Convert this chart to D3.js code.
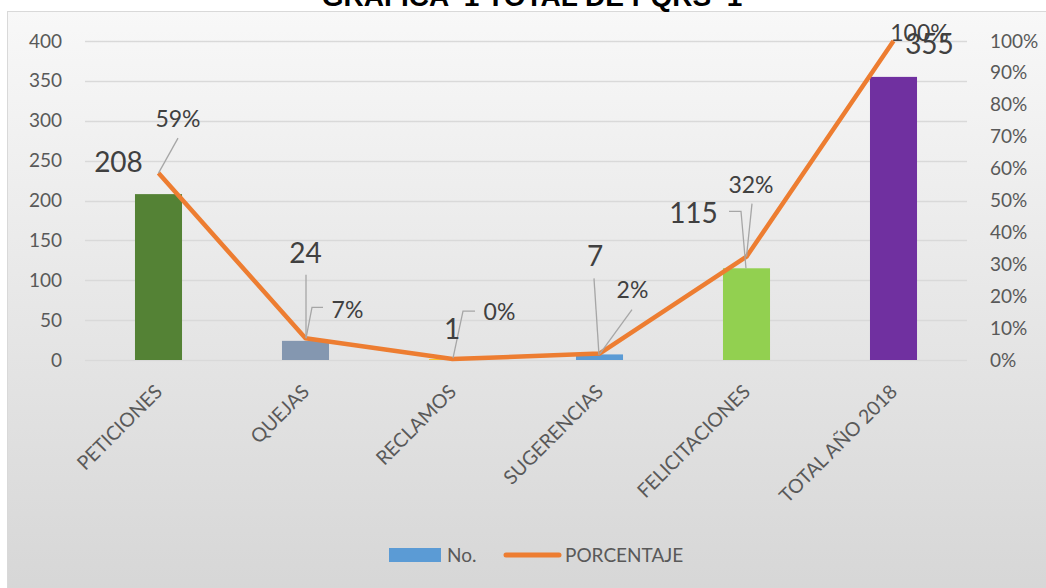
<!DOCTYPE html>
<html>
<head>
<meta charset="utf-8">
<script src="https://cdn.jsdelivr.net/npm/d3@7"></script>
<style>
  html, body { margin: 0; padding: 0; background: #fff; }
  svg { display: block; }
  text { font-family: Lato, "Open Sans", sans-serif; }
</style>
</head>
<body>
<div id="chart"></div>
<script>
// datos
const categories = ["PETICIONES", "QUEJAS", "RECLAMOS", "SUGERENCIAS", "FELICITACIONES", "TOTAL AÑO 2018"];
const counts = [208, 24, 1, 7, 115, 355];
const percents = [0.586, 0.068, 0.003, 0.020, 0.324, 1.0];
const percentLabels = ["59%", "7%", "0%", "2%", "32%", "100%"];
const barColors = ["#548235", "#8497b0", "#ffc000", "#5b9bd5", "#92d050", "#7030a0"];
const leftTicks = [0, 50, 100, 150, 200, 250, 300, 350, 400];
const rightTicks = [0, 0.1, 0.2, 0.3, 0.4, 0.5, 0.6, 0.7, 0.8, 0.9, 1.0];

// posicion manual de etiquetas (como en Excel)
const countLabelPos = [
  { dx: -40, dy: -32 },
  { dx: 0, dy: -88, lead: [[0.5, -66], [0.5, -3]] },
  { dx: -0.5, dy: -30 },
  { dx: -4.5, dy: -98, lead: [[-5.5, -76], [-0.5, 0.6]] },
  { dx: -53, dy: -55, lead: [[-17.5, -57], [-5.5, -57], [-0.5, 0]] },
  { dx: 36, dy: -33 }
];
const pctLabelPos = [
  { dx: 19.5, dy: -54, lead: [[19.5, -35], [0, 0]] },
  { dx: 42, dy: -29, lead: [[17.5, -31], [6.5, -31], [0.5, 0]] },
  { dx: 47, dy: -47, lead: [[22.5, -48], [10.5, -48], [0.5, -1]] },
  { dx: 33, dy: -64, lead: [[32.5, -44], [0.5, 0]] },
  { dx: 4.5, dy: -72, lead: [[5.5, -53], [0, 0]] },
  { dx: 26, dy: -8 }
];

const width = 1046, height = 588;
const plot = { left: 85, right: 967, top: 41, bottom: 360 };

const svg = d3.select("#chart").append("svg")
  .attr("width", width)
  .attr("height", height);

// fondo degradado
const grad = svg.append("defs").append("linearGradient")
  .attr("id", "bg").attr("x1", 0).attr("y1", 0).attr("x2", 0).attr("y2", 1);
grad.append("stop").attr("offset", "0%").attr("stop-color", "#f8f8f8");
grad.append("stop").attr("offset", "100%").attr("stop-color", "#d6d6d6");

svg.append("rect")
  .attr("x", 7.5).attr("y", 11.5)
  .attr("width", width).attr("height", height)
  .attr("fill", "url(#bg)")
  .attr("stroke", "#d9d9d9");

// titulo (cortado arriba, como en la imagen)
svg.append("text")
  .attr("x", 532).attr("y", 6)
  .attr("text-anchor", "middle")
  .attr("xml:space", "preserve")
  .style("font-family", "'Liberation Sans', Arial, sans-serif")
  .style("font-weight", "bold")
  .style("font-size", "28px")
  .attr("fill", "#000")
  .text("GRAFICA  1 TOTAL DE PQRS  1");

// escalas
const x = d3.scaleBand().domain(categories).range([plot.left, plot.right]).padding(0);
const y = d3.scaleLinear().domain([0, 400]).range([plot.bottom, plot.top]);
const y2 = d3.scaleLinear().domain([0, 1]).range([plot.bottom, plot.top]);
const cx = d => x(d) + x.bandwidth() / 2;
const barW = x.bandwidth() * 0.32;

// lineas de cuadricula
svg.append("g").selectAll("line")
  .data(leftTicks)
  .enter().append("line")
  .attr("x1", plot.left).attr("x2", plot.right)
  .attr("y1", d => Math.round(y(d)) + 0.5)
  .attr("y2", d => Math.round(y(d)) + 0.5)
  .attr("stroke", "#d9d9d9")
  .attr("stroke-width", 1.3);

// eje izquierdo
const axisL = svg.append("g")
  .attr("transform", `translate(62,0)`)
  .call(d3.axisLeft(y).tickValues(leftTicks).tickSize(0).tickPadding(0));
axisL.select(".domain").remove();
axisL.selectAll("text")
  .attr("fill", "#595959")
  .style("font-size", "19px")
  .style("font-family", "Lato, sans-serif");

// eje derecho
const axisR = svg.append("g")
  .attr("transform", `translate(990,0)`)
  .call(d3.axisRight(y2).tickValues(rightTicks).tickSize(0).tickPadding(0).tickFormat(d3.format(".0%")));
axisR.select(".domain").remove();
axisR.selectAll("text")
  .attr("fill", "#595959")
  .style("font-size", "19px")
  .style("font-family", "Lato, sans-serif");

// etiquetas de categoria, rotadas
svg.append("g").selectAll("text")
  .data(categories)
  .enter().append("text")
  .attr("transform", d => `translate(${cx(d) + 5},${393}) rotate(-45)`)
  .attr("text-anchor", "end")
  .attr("fill", "#595959")
  .style("font-size", "19.5px")
  .text(d => d);

// barras
svg.append("g").selectAll("rect")
  .data(counts)
  .enter().append("rect")
  .attr("x", (d, i) => cx(categories[i]) - barW / 2)
  .attr("y", d => y(d))
  .attr("width", barW)
  .attr("height", d => plot.bottom - y(d))
  .attr("fill", (d, i) => barColors[i]);

// linea de porcentaje
const line = d3.line()
  .x((d, i) => cx(categories[i]))
  .y(d => y2(d));

svg.append("path")
  .datum(percents)
  .attr("d", line)
  .attr("fill", "none")
  .attr("stroke", "#ed7d31")
  .attr("stroke-width", 4.5)
  .attr("stroke-linejoin", "round");

// lineas guia
const leader = d3.line();
function drawLeaders(layout, px, py) {
  svg.append("g").selectAll("path")
    .data(layout.filter(l => l.lead))
    .enter().append("path")
    .attr("d", l => {
      const i = layout.indexOf(l);
      return leader(l.lead.map(p => [px(i) + p[0], py(i) + p[1]]));
    })
    .attr("fill", "none")
    .attr("stroke", "#a6a6a6")
    .attr("stroke-width", 1.3);
}
drawLeaders(countLabelPos, i => cx(categories[i]), i => y(counts[i]));
drawLeaders(pctLabelPos, i => cx(categories[i]), i => y2(percents[i]));

// etiquetas de valores
svg.append("g").selectAll("text")
  .data(counts)
  .enter().append("text")
  .attr("x", (d, i) => cx(categories[i]) + countLabelPos[i].dx)
  .attr("y", (d, i) => y(d) + countLabelPos[i].dy)
  .attr("dy", "0.36em")
  .attr("text-anchor", "middle")
  .attr("fill", "#404040")
  .style("font-size", "28px")
  .text(d => d);

svg.append("g").selectAll("text")
  .data(percents)
  .enter().append("text")
  .attr("x", (d, i) => cx(categories[i]) + pctLabelPos[i].dx)
  .attr("y", (d, i) => y2(d) + pctLabelPos[i].dy)
  .attr("dy", "0.36em")
  .attr("text-anchor", "middle")
  .attr("fill", "#404040")
  .style("font-size", "23px")
  .text((d, i) => percentLabels[i]);

// leyenda
const legend = svg.append("g");
legend.append("rect")
  .attr("x", 389).attr("y", 548)
  .attr("width", 52).attr("height", 14)
  .attr("fill", "#5b9bd5");
legend.append("text")
  .attr("x", 447).attr("y", 555).attr("dy", "0.36em")
  .attr("fill", "#595959")
  .style("font-size", "19px")
  .text("No.");
legend.append("line")
  .attr("x1", 506).attr("x2", 559)
  .attr("y1", 555).attr("y2", 555)
  .attr("stroke", "#ed7d31")
  .attr("stroke-width", 5)
  .attr("stroke-linecap", "round");
legend.append("text")
  .attr("x", 565).attr("y", 555).attr("dy", "0.36em")
  .attr("fill", "#595959")
  .style("font-size", "19px")
  .text("PORCENTAJE");
</script>
</body>
</html>
